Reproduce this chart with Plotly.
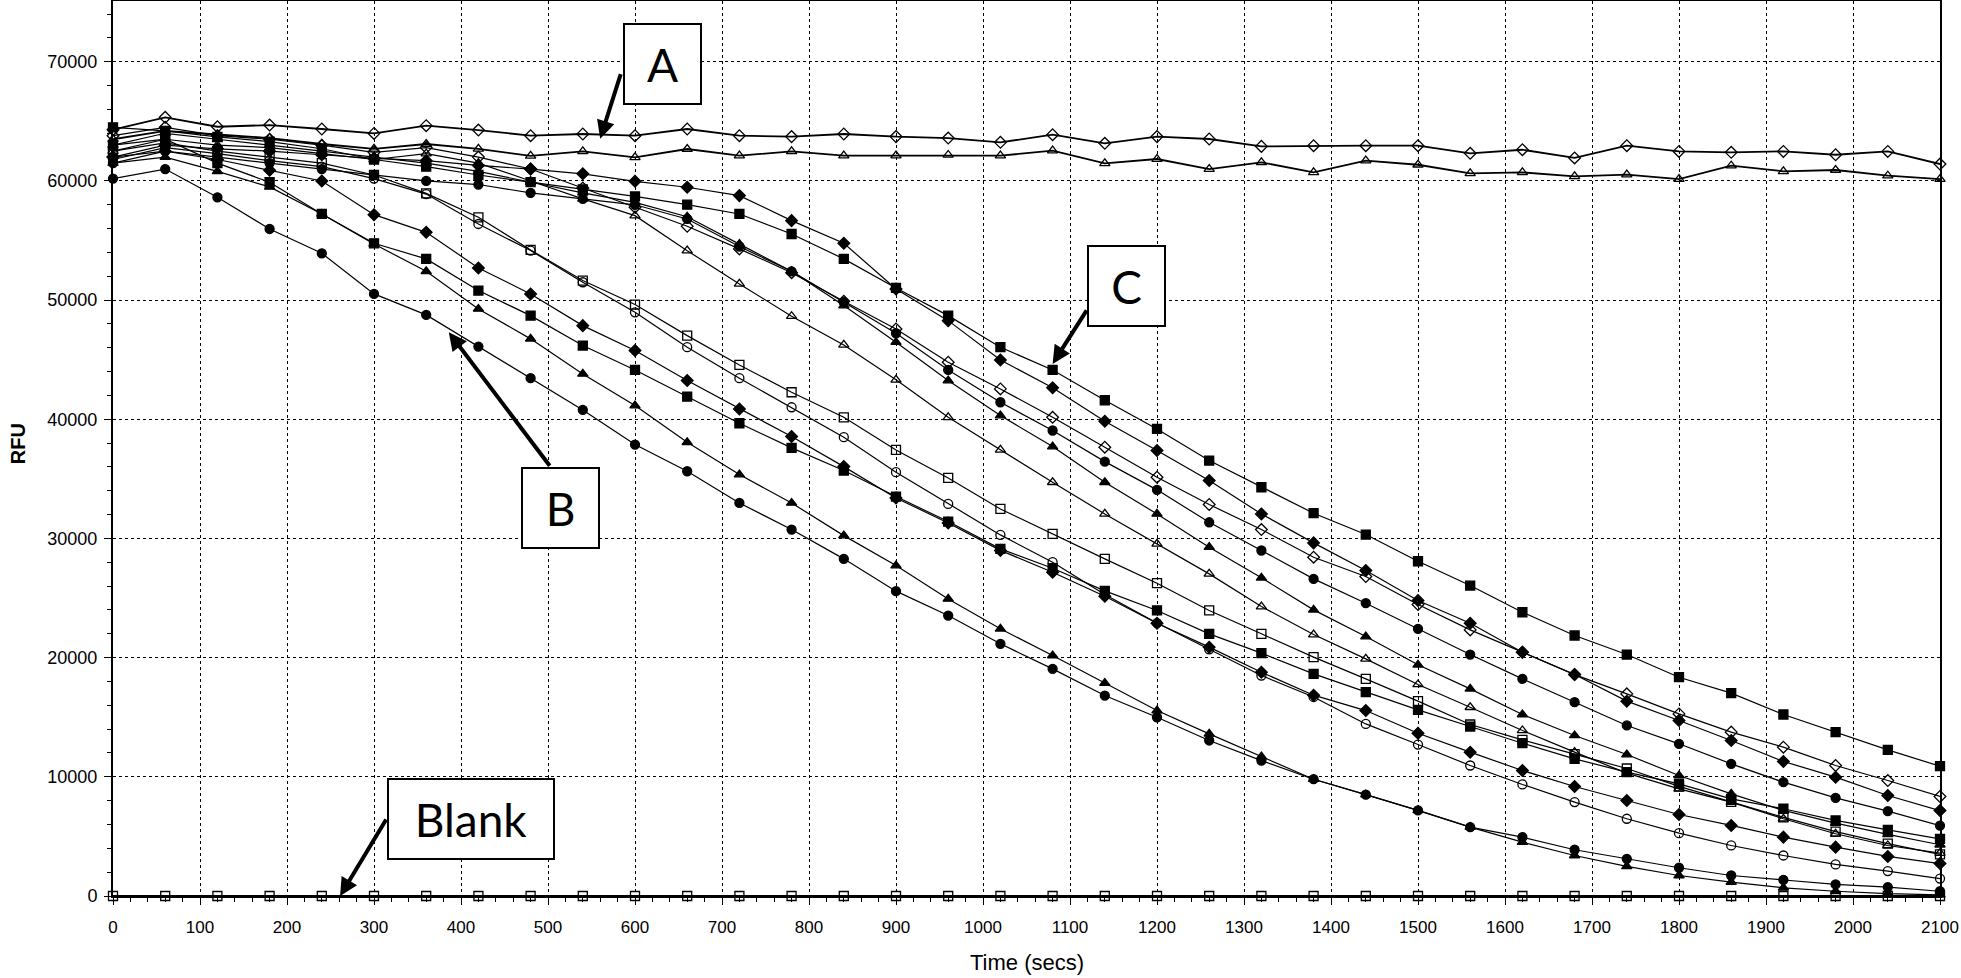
import plotly.graph_objects as go

tempo = [0, 60, 120, 180, 240, 300, 360, 420, 480, 540, 600, 660,
         720, 780, 840, 900, 960, 1020, 1080, 1140, 1200, 1260, 1320, 1380,
         1440, 1500, 1560, 1620, 1680, 1740, 1800, 1860, 1920, 1980, 2040, 2100]

# grupo A (quase constante)
a_losango = [64300, 65340, 64550, 64690, 64360, 63990, 64640, 64270, 63800, 63940, 63800, 64360,
             63800, 63720, 63940, 63720, 63600, 63240, 63880, 63160, 63720, 63520, 62900, 62960,
             62960, 62960, 62320, 62620, 61930, 62960, 62480, 62400, 62480, 62200, 62480, 61420]
a_triangulo = [63500, 64200, 63900, 63600, 63100, 62700, 63100, 62700, 62100, 62480, 61980, 62680,
               62120, 62480, 62120, 62120, 62180, 62120, 62540, 61480, 61840, 61000, 61560, 60720,
               61700, 61360, 60640, 60720, 60390, 60530, 60160, 61280, 60810, 60920, 60440, 60160]

# grupo C (queda tardia)
c_quadrado = [64500, 64200, 63700, 63300, 62700, 61800, 61200, 60500, 59900, 59300, 58700, 58010,
              57230, 55550, 53460, 51020, 48700, 46050, 44140, 41600, 39190, 36540, 34300, 32120,
              30330, 28090, 26050, 23810, 21860, 20260, 18360, 17020, 15230, 13750, 12260, 10890]
c_losango = [62000, 63000, 62700, 62500, 62200, 61900, 61700, 61300, 61000, 60600, 59970, 59470,
             58770, 56670, 54770, 50940, 48280, 44980, 42640, 39840, 37380, 34860, 32060, 29630,
             27310, 24790, 22890, 20460, 18580, 16350, 14730, 13050, 11290, 9970, 8430, 7170]
c_losango_aberto = [63800, 64500, 63800, 63500, 63000, 62400, 62800, 62000, 61000, 59400, 57800, 56200,
                    54300, 52300, 49900, 47580, 44790, 42550, 40170, 37660, 35140, 32850, 30750, 28430,
                    26810, 24460, 22330, 20460, 18580, 16960, 15280, 13750, 12490, 10950, 9690, 8350]
c_circulo = [61500, 62500, 62000, 61500, 61000, 60500, 60000, 59700, 59000, 58500, 58000, 56810,
             54500, 52420, 49820, 47220, 44140, 41430, 39060, 36450, 34080, 31360, 28990, 26610,
             24570, 22420, 20260, 18220, 16260, 14310, 12770, 11090, 9550, 8240, 7120, 5910]
c_triangulo = [63000, 64000, 63500, 63000, 62500, 62000, 61500, 60800, 59900, 59000, 58200, 57000,
               54700, 52420, 49540, 46470, 43250, 40310, 37710, 34720, 32060, 29270, 26700, 24010,
               21770, 19400, 17380, 15230, 13470, 11870, 10110, 8570, 7180, 6110, 5170, 4300]
c_triangulo_aberto = [62500, 63500, 63000, 62800, 62300, 61800, 62300, 61500, 60000, 58500, 57090, 54150,
                      51360, 48650, 46240, 43310, 40170, 37430, 34720, 32060, 29550, 27030, 24290, 21940,
                      19900, 17750, 15840, 13890, 12070, 10310, 8990, 7880, 6480, 5220, 4240, 3600]

# grupo intermediario
m_quadrado_aberto = [62500, 63200, 62500, 62000, 61500, 60500, 58960, 56950, 54210, 51640, 49630, 47020,
                     44560, 42270, 40170, 37430, 35080, 32480, 30380, 28290, 26250, 23960, 22000, 20040,
                     18220, 16350, 14390, 13100, 11900, 10700, 9200, 7900, 6600, 5400, 4400, 3500]
m_circulo_aberto = [61800, 62800, 62300, 61700, 61200, 60200, 58900, 56390, 54160, 51500, 48980, 46050,
                    43450, 41010, 38500, 35560, 32900, 30300, 28010, 25300, 22900, 20700, 18500, 16700,
                    14440, 12710, 10950, 9360, 7880, 6480, 5270, 4240, 3400, 2650, 2090, 1460]
m_quadrado = [63000, 63500, 61500, 59890, 57230, 54770, 53460, 50800, 48700, 46190, 44140, 41910,
              39670, 37600, 35700, 33520, 31420, 29130, 27500, 25600, 23960, 22000, 20380, 18640,
              17110, 15620, 14220, 12820, 11510, 10390, 9410, 8150, 7320, 6340, 5550, 4800]
m_losango = [62000, 62500, 61800, 60900, 60000, 57170, 55690, 52700, 50520, 47860, 45770, 43250,
             40870, 38550, 36030, 33400, 31300, 29000, 27170, 25150, 22890, 20880, 18780, 16850,
             15560, 13660, 12070, 10530, 9190, 8010, 6840, 5920, 4940, 4100, 3320, 2720]

# grupo B (queda rapida)
b_triangulo = [61500, 62000, 60800, 59500, 57230, 54710, 52420, 49260, 46750, 43810, 41150, 38070,
               35360, 32980, 30240, 27730, 24930, 22420, 20180, 17860, 15560, 13600, 11690, 9800,
               8500, 7180, 5780, 4520, 3400, 2480, 1720, 1160, 690, 400, 200, 100]
b_circulo = [60200, 61000, 58630, 55970, 53930, 50520, 48760, 46100, 43450, 40790, 37880, 35640,
             32980, 30750, 28290, 25580, 23530, 21160, 19060, 16820, 15000, 13050, 11360, 9800,
             8500, 7180, 5780, 4940, 3880, 3120, 2370, 1720, 1360, 970, 750, 400]

branco = [0, 0, 0, 0, 0, 0, 0, 0, 0, 0, 0, 0,
          0, 0, 0, 0, 0, 0, 0, 0, 0, 0, 0, 0,
          0, 0, 0, 0, 0, 0, 0, 0, 0, 0, 0, 0]

series = [
    (a_losango, "diamond-open", 1.8),
    (a_triangulo, "triangle-up-open", 1.8),
    (c_quadrado, "square", 1.2),
    (c_losango, "diamond", 1.2),
    (c_losango_aberto, "diamond-open", 1.2),
    (c_circulo, "circle", 1.2),
    (c_triangulo, "triangle-up", 1.2),
    (c_triangulo_aberto, "triangle-up-open", 1.2),
    (m_quadrado_aberto, "square-open", 1.2),
    (m_circulo_aberto, "circle-open", 1.2),
    (m_quadrado, "square", 1.2),
    (m_losango, "diamond", 1.2),
    (b_triangulo, "triangle-up", 1.2),
    (b_circulo, "circle", 1.2),
    (branco, "square-open", 2.0),
]

fig = go.Figure()

for valores, simbolo, largura in series:
    fig.add_trace(go.Scatter(
        x=tempo,
        y=valores,
        mode="lines+markers",
        line=dict(color="black", width=largura),
        marker=dict(symbol=simbolo, size=9, color="black",
                    line=dict(color="black", width=1.3)),
        cliponaxis=False,
        showlegend=False
    ))

fonte_eixo = "Liberation Sans Narrow, Arial Narrow, Liberation Sans, sans-serif"
fonte_caixa = "Lato, Carlito, Calibri, sans-serif"

fig.update_layout(
    width=1961,
    height=978,
    margin=dict(l=113, r=21, t=1, b=82),
    paper_bgcolor="white",
    plot_bgcolor="white",
    showlegend=False
)

fig.update_xaxes(
    range=[0, 2100],
    tick0=0,
    dtick=100,
    automargin=False,
    showgrid=True,
    gridcolor="black",
    griddash="dot",
    gridwidth=1,
    showline=True,
    linecolor="black",
    linewidth=2,
    mirror=True,
    zeroline=False,
    ticks="outside",
    ticklen=7,
    tickcolor="black",
    ticklabelstandoff=8,
    tickfont=dict(family=fonte_eixo, size=17, color="black"),
    minor=dict(dtick=20, ticks="outside", ticklen=4, tickcolor="black", showgrid=False)
)

fig.update_yaxes(
    range=[0, 75100],
    tick0=0,
    dtick=10000,
    tickformat="d",
    automargin=False,
    showgrid=True,
    gridcolor="black",
    griddash="dot",
    gridwidth=1,
    showline=True,
    linecolor="black",
    linewidth=2,
    mirror=True,
    zeroline=False,
    ticks="outside",
    ticklen=7,
    tickcolor="black",
    ticklabelstandoff=3,
    tickfont=dict(family=fonte_eixo, size=18, color="black"),
    minor=dict(dtick=2000, ticks="outside", ticklen=4, tickcolor="black", showgrid=False)
)

# titulos dos eixos
fig.add_annotation(text="Time (secs)", xref="paper", yref="paper", x=0.5, y=-0.074,
                   showarrow=False, yanchor="middle",
                   font=dict(family=fonte_eixo, size=22, color="black"))
fig.add_annotation(text="<b>RFU</b>", xref="paper", yref="paper", x=-0.052, y=0.506,
                   showarrow=False, textangle=-90, xanchor="center", yanchor="middle",
                   font=dict(family="Liberation Sans, sans-serif", size=20, color="black"))

# caixas com rotulos
caixas = [
    ("A", 632, 69800, 75),
    ("C", 1165, 51170, 75),
    ("B", 514, 32590, 75),
    ("Blank", 411, 6420, 164),
]
for texto, cx, cy, larg in caixas:
    fig.add_annotation(text=texto, x=cx, y=cy, xref="x", yref="y", showarrow=False,
                       width=larg, height=78, align="center", valign="middle",
                       bgcolor="white", bordercolor="black", borderwidth=2, borderpad=0,
                       font=dict(family=fonte_caixa, size=46, color="black"))

# setas
setas = [
    (560, 63550, 21, -66),
    (1080, 44650, 35, -55),
    (386, 47300, 102, 135),
    (261, 0, 47, -78),
]
for sx, sy, dx, dy in setas:
    fig.add_annotation(text="", x=sx, y=sy, xref="x", yref="y", ax=dx, ay=dy,
                       showarrow=True, arrowhead=2, arrowsize=0.9, arrowwidth=4,
                       arrowcolor="black")

# tira a margem padrao da pagina para a figura ocupar a janela toda
fig.write_html("out.html", config={"displayModeBar": False},
               post_script="document.body.style.margin='0';")
